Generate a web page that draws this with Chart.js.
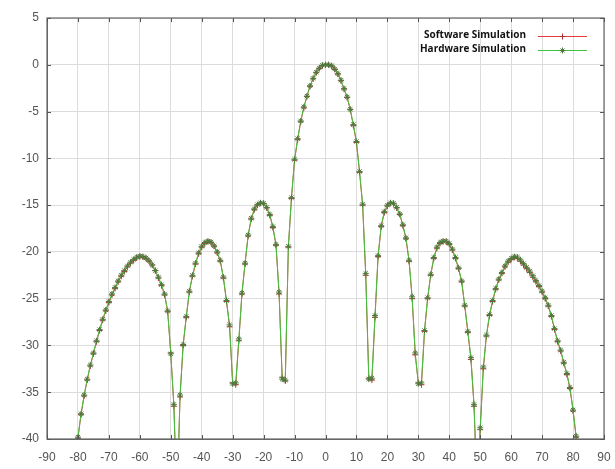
<!DOCTYPE html>
<html>
<head>
<meta charset="utf-8">
<script src="https://cdn.jsdelivr.net/npm/chart.js@4/dist/chart.umd.min.js"></script>
<style>
  html, body { margin: 0; padding: 0; background: #ffffff; }
  #wrap { width: 615px; height: 469px; position: relative; }
</style>
</head>
<body>
<div id="wrap"><canvas id="c" width="615" height="469"></canvas></div>
<script>
// Angles (degrees)
const angles = [
  -80,-79,-78,-77,-76,-75,-74,-73,-72,-71,-70,-69,-68,-67,-66,-65,-64,-63,-62,-61,
  -60,-59,-58,-57,-56,-55,-54,-53,-52,-51,-50,-49,-48,-47,-46,-45,-44,-43,-42,-41,
  -40,-39,-38,-37,-36,-35,-34,-33,-32,-31,-30,-29,-28,-27,-26,-25,-24,-23,-22,-21,
  -20,-19,-18,-17,-16,-15,-14,-13,-12,-11,-10,-9,-8,-7,-6,-5,-4,-3,-2,-1,
  0,1,2,3,4,5,6,7,8,9,10,11,12,13,14,15,16,17,18,19,
  20,21,22,23,24,25,26,27,28,29,30,31,32,33,34,35,36,37,38,39,
  40,41,42,43,44,45,46,47,48,49,50,51,52,53,54,55,56,57,58,59,
  60,61,62,63,64,65,66,67,68,69,70,71,72,73,74,75,76,77,78,79,
  80,81
];

// Software Simulation (dB)
const software = [
  -39.9,-37.4,-35.4,-33.7,-32.2,-30.9,-29.6,-28.4,-27.3,-26.3,-25.4,-24.6,-23.9,-23.2,-22.6,-22.1,-21.6,-21.2,-20.9,-20.65,
  -20.5,-20.55,-20.7,-21.0,-21.4,-22.0,-22.8,-23.6,-24.6,-26.4,-30.8,-36.5,-47.0,-35.5,-30.0,-27.0,-24.3,-22.6,-21.3,-20.2,
  -19.5,-19.1,-18.9,-19.0,-19.4,-20.1,-21.0,-22.8,-25.3,-28.0,-34.0,-34.2,-29.5,-24.5,-21.3,-18.3,-16.5,-15.5,-15.0,-14.8,
  -14.85,-15.3,-16.1,-17.4,-19.3,-24.5,-33.4,-33.8,-19.5,-14.3,-10.2,-8.0,-6.1,-4.6,-3.4,-2.3,-1.5,-0.85,-0.4,-0.1,
  0.0,0.0,-0.15,-0.5,-1.0,-1.7,-2.6,-3.5,-4.8,-6.5,-8.3,-11.5,-15.0,-22.5,-33.5,-33.7,-27.0,-20.5,-17.3,-15.8,
  -15.1,-14.8,-14.85,-15.3,-16.0,-17.2,-18.6,-21.0,-25.0,-31.0,-34.0,-34.2,-28.5,-25.0,-22.5,-20.7,-19.6,-19.1,-18.9,-18.9,
  -19.2,-19.8,-20.7,-21.8,-23.2,-25.8,-28.6,-31.5,-36.5,-46.0,-39.0,-32.5,-29.0,-26.8,-25.3,-24.0,-23.0,-22.3,-21.6,-21.1,
  -20.8,-20.6,-20.7,-21.0,-21.4,-21.8,-22.2,-22.7,-23.2,-23.7,-24.3,-25.0,-25.8,-26.9,-28.3,-29.6,-30.6,-31.9,-33.1,-34.6,
  -37.0,-39.8
];

// Hardware Simulation (dB)
const hardware = [
  -39.8,-37.3,-35.3,-33.6,-32.1,-30.8,-29.5,-28.3,-27.2,-26.2,-25.3,-24.5,-23.8,-23.1,-22.5,-22.0,-21.5,-21.1,-20.8,-20.55,
  -20.45,-20.5,-20.65,-20.95,-21.4,-22.0,-22.7,-23.5,-24.5,-26.3,-30.9,-36.3,-46.5,-35.3,-29.9,-26.9,-24.2,-22.5,-21.2,-20.1,
  -19.4,-19.0,-18.85,-18.95,-19.35,-20.0,-20.9,-22.7,-25.2,-27.8,-34.1,-34.0,-29.3,-24.4,-21.2,-18.2,-16.4,-15.4,-14.95,-14.75,
  -14.8,-15.25,-16.0,-17.3,-19.2,-24.3,-33.6,-33.7,-19.4,-14.2,-10.1,-7.9,-6.0,-4.5,-3.35,-2.25,-1.45,-0.8,-0.35,-0.05,
  0.0,0.0,-0.1,-0.45,-0.95,-1.65,-2.55,-3.45,-4.75,-6.4,-8.2,-11.4,-14.9,-22.3,-33.6,-33.5,-26.8,-20.4,-17.2,-15.7,
  -15.0,-14.75,-14.8,-15.25,-15.95,-17.1,-18.5,-20.9,-24.8,-30.8,-34.1,-34.0,-28.4,-24.9,-22.4,-20.6,-19.5,-19.0,-18.85,-18.85,
  -19.1,-19.7,-20.6,-21.7,-23.1,-25.7,-28.5,-31.3,-36.3,-45.5,-38.8,-32.3,-28.9,-26.7,-25.2,-23.9,-22.9,-22.2,-21.5,-21.0,
  -20.7,-20.5,-20.55,-20.85,-21.25,-21.65,-22.05,-22.55,-23.05,-23.6,-24.2,-24.9,-25.7,-26.8,-28.2,-29.5,-30.5,-31.8,-33.0,-34.5,
  -36.9,-39.7
];

const seriesLabels = ["Software Simulation", "Hardware Simulation"];
const xTicks = [-90,-80,-70,-60,-50,-40,-30,-20,-10,0,10,20,30,40,50,60,70,80,90];
const yTicks = [5,0,-5,-10,-15,-20,-25,-30,-35,-40];

const toXY = (arr) => arr.map((v, i) => ({ x: angles[i], y: v }));

const frameAndLegend = {
  id: 'frameAndLegend',
  afterDraw(chart) {
    const ctx = chart.ctx;
    const a = chart.chartArea;
    ctx.save();
    // frame
    ctx.strokeStyle = '#666666';
    ctx.lineWidth = 1.2;
    ctx.strokeRect(a.left, a.top, a.right - a.left, a.bottom - a.top);
    // inward tick marks on all four sides
    const xs = chart.scales.x, ys = chart.scales.y;
    ctx.strokeStyle = '#555555';
    ctx.lineWidth = 1;
    ctx.beginPath();
    xTicks.forEach(t => {
      const px = Math.round(xs.getPixelForValue(t)) + 0.5;
      ctx.moveTo(px, a.bottom); ctx.lineTo(px, a.bottom - 4);
      ctx.moveTo(px, a.top); ctx.lineTo(px, a.top + 4);
    });
    yTicks.forEach(t => {
      const py = Math.round(ys.getPixelForValue(t)) + 0.5;
      ctx.moveTo(a.left, py); ctx.lineTo(a.left + 4, py);
      ctx.moveTo(a.right, py); ctx.lineTo(a.right - 4, py);
    });
    ctx.stroke();
    // legend
    const rows = [36, 50];
    chart.data.datasets.forEach((ds, i) => {
      const y = rows[i];
      ctx.font = 'bold 11px "Open Sans", "Liberation Sans", sans-serif';
      ctx.fillStyle = '#111111';
      ctx.textBaseline = 'middle';
      ctx.textAlign = 'right';
      const w = ctx.measureText(ds.label).width;
      const target = i === 0 ? 102 : 106;
      ctx.save();
      ctx.translate(526, y - 1);
      ctx.scale(target / w, 1);
      ctx.fillText(ds.label, 0, 0);
      ctx.restore();
      // line sample
      ctx.strokeStyle = ds.borderColor;
      ctx.lineWidth = 1;
      ctx.beginPath();
      ctx.moveTo(538, y + 0.5); ctx.lineTo(587, y + 0.5);
      ctx.stroke();
      // marker
      ctx.strokeStyle = ds.pointBorderColor;
      ctx.beginPath();
      const cx = 562.5, cy = y + 0.5, r = 3;
      if (i === 0) {
        ctx.moveTo(cx - r, cy); ctx.lineTo(cx + r, cy);
        ctx.moveTo(cx, cy - r); ctx.lineTo(cx, cy + r);
      } else {
        ctx.moveTo(cx - r, cy); ctx.lineTo(cx + r, cy);
        ctx.moveTo(cx, cy - r); ctx.lineTo(cx, cy + r);
        ctx.moveTo(cx - 2, cy - 2); ctx.lineTo(cx + 2, cy + 2);
        ctx.moveTo(cx - 2, cy + 2); ctx.lineTo(cx + 2, cy - 2);
      }
      ctx.stroke();
    });
    ctx.restore();
  }
};

new Chart(document.getElementById('c'), {
  type: 'line',
  data: {
    datasets: [
      {
        label: seriesLabels[0],
        data: toXY(software),
        borderColor: '#e83a3a',
        borderWidth: 1,
        pointStyle: 'cross',
        pointRadius: 3,
        pointBorderColor: '#b03030',
        pointBorderWidth: 1,
        tension: 0,
        order: 2
      },
      {
        label: seriesLabels[1],
        data: toXY(hardware),
        borderColor: '#3fc43f',
        borderWidth: 1,
        pointStyle: 'star',
        pointRadius: 3,
        pointBorderColor: '#4d7a3d',
        pointBorderWidth: 1,
        tension: 0,
        order: 1
      }
    ]
  },
  options: {
    responsive: false,
    animation: false,
    devicePixelRatio: 1,
    layout: { padding: { top: 18, right: 11, left: 0, bottom: 0 } },
    plugins: { legend: { display: false }, tooltip: { enabled: false } },
    scales: {
      x: {
        type: 'linear',
        min: -90, max: 90,
        afterBuildTicks: (s) => { s.ticks = xTicks.map(v => ({ value: v })); },
        afterFit: (s) => { s.height = 30; s.paddingRight = 0; s.paddingLeft = 0; },
        ticks: { color: '#555555', font: { family: '"Liberation Sans", Arial, sans-serif', size: 12 }, padding: 11, maxRotation: 0, autoSkip: false },
        grid: { color: '#dcdcdc', lineWidth: 1, drawTicks: false },
        border: { color: '#666666' }
      },
      y: {
        type: 'linear',
        min: -40, max: 5,
        afterBuildTicks: (s) => { s.ticks = yTicks.map(v => ({ value: v })); },
        afterFit: (s) => { s.width = 47; s.paddingTop = 0; s.paddingBottom = 0; },
        ticks: { color: '#555555', font: { family: '"Liberation Sans", Arial, sans-serif', size: 12 }, padding: 8, autoSkip: false },
        grid: { color: '#dcdcdc', lineWidth: 1, drawTicks: false },
        border: { color: '#666666' }
      }
    }
  },
  plugins: [frameAndLegend]
});
</script>
</body>
</html>
